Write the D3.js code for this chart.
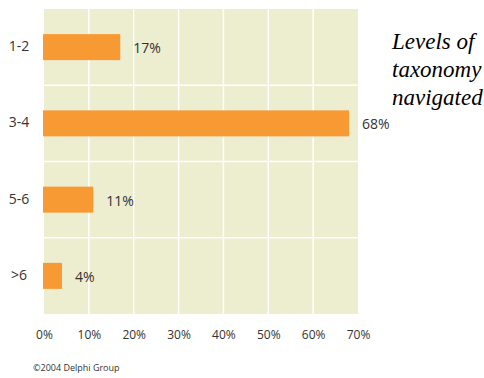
<!DOCTYPE html>
<html>
<head>
<meta charset="utf-8">
<script src="https://cdn.jsdelivr.net/npm/d3@7"></script>
<style>
  body { margin: 0; background: #fff; }
  svg { display: block; }
</style>
</head>
<body>
<div id="chart"></div>
<script>
// data
const levels = ["1-2", "3-4", "5-6", ">6"];
const shares = [17, 68, 11, 4];
const xTicks = [0, 10, 20, 30, 40, 50, 60, 70];
const titleLines = ["Levels of", "taxonomy", "navigated"];
const footer = "\u00a92004  Delphi Group";

const W = 484, H = 378;
const margin = {top: 9, right: 126, bottom: 64, left: 44};
const width = W - margin.left - margin.right;
const height = H - margin.top - margin.bottom;

const svg = d3.select("#chart").append("svg")
    .attr("width", W)
    .attr("height", H);

const g = svg.append("g")
    .attr("transform", "translate(" + margin.left + "," + margin.top + ")");

const x = d3.scaleLinear().domain([0, 70]).range([0, width]);
const y = d3.scaleBand().domain(levels).range([0, height]);

// plot background
g.append("rect")
    .attr("width", width)
    .attr("height", height)
    .attr("fill", "#EDEDD0");

// vertical grid
g.selectAll(".vgrid")
    .data(xTicks.slice(1, -1))
    .enter().append("line")
    .attr("x1", d => x(d)).attr("x2", d => x(d))
    .attr("y1", 0).attr("y2", height)
    .attr("stroke", "#fff").attr("stroke-width", 1.5);

// horizontal grid between bands
g.selectAll(".hgrid")
    .data(levels.slice(1))
    .enter().append("line")
    .attr("x1", 0).attr("x2", width)
    .attr("y1", d => y(d)).attr("y2", d => y(d))
    .attr("stroke", "#fff").attr("stroke-width", 1.5);

const barH = 26;

// bars
g.selectAll(".bar")
    .data(levels)
    .enter().append("rect")
    .attr("x", -1)
    .attr("y", d => y(d) + y.bandwidth() / 2 - barH / 2)
    .attr("width", (d, i) => x(shares[i]) + 1)
    .attr("height", barH)
    .attr("fill", "#F79A33");

// value labels
g.selectAll(".val")
    .data(levels)
    .enter().append("text")
    .attr("x", (d, i) => x(shares[i]) + 13)
    .attr("y", d => y(d) + y.bandwidth() / 2 + 1)
    .attr("dy", "0.35em")
    .attr("font-family", "'Open Sans', sans-serif")
    .attr("font-size", 14)
    .attr("fill", "#333")
    .text((d, i) => shares[i] + "%");

// category labels
g.selectAll(".cat")
    .data(levels)
    .enter().append("text")
    .attr("x", -25)
    .attr("y", d => y(d) + y.bandwidth() / 2 - 1)
    .attr("dy", "0.35em")
    .attr("text-anchor", "middle")
    .attr("font-family", "'Open Sans', sans-serif")
    .attr("font-size", 14)
    .attr("fill", "#333")
    .text(d => d);

// x axis
const xAxis = g.append("g")
    .attr("transform", "translate(0," + height + ")")
    .call(d3.axisBottom(x).tickValues(xTicks).tickSize(0).tickPadding(16)
        .tickFormat(d => d + "%"));
xAxis.select(".domain").remove();
xAxis.selectAll("text")
    .attr("font-family", "'Open Sans', sans-serif")
    .attr("font-size", 12)
    .attr("fill", "#333");

// title
const title = svg.append("text")
    .attr("x", 392)
    .attr("y", 49)
    .attr("font-family", "'Liberation Serif', serif")
    .attr("font-style", "italic")
    .attr("font-size", 23)
    .attr("fill", "#000");
title.selectAll("tspan")
    .data(titleLines)
    .enter().append("tspan")
    .attr("x", 392)
    .attr("dy", (d, i) => i === 0 ? 0 : 28)
    .text(d => d);

// footer
svg.append("text")
    .attr("x", 33)
    .attr("y", 371)
    .attr("font-family", "'Open Sans', sans-serif")
    .attr("font-size", 9)
    .attr("fill", "#333")
    .text(footer);
</script>
</body>
</html>
